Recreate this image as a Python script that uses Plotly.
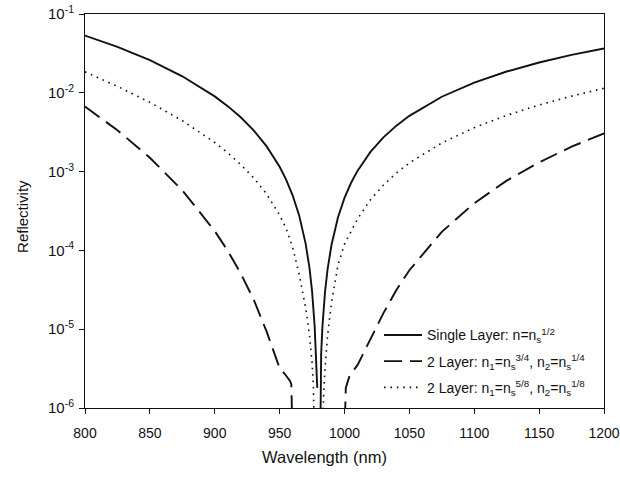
import plotly.graph_objects as go

# Reflectivity spectra of AR coatings (log scale), wavelength in nm
wl_single = [800, 825, 850, 875, 900, 910, 920, 930, 940, 950, 955, 960, 965, 970,
             973, 975, 977, 978, 979, 980, 981, 982, 983, 985, 987, 990, 995, 1000,
             1005, 1010, 1020, 1030, 1040, 1050, 1075, 1100, 1125, 1150, 1175, 1200]
r_single = [0.0532, 0.0382, 0.0259, 0.0162, 0.0090, 0.00677, 0.00489, 0.00333, 0.00209,
            0.00115, 7.9e-4, 5.0e-4, 2.8e-4, 1.23e-4, 6.0e-5, 3.05e-5, 1.09e-5, 4.8e-6,
            1.8e-6, None, 1e-7, 4.8e-6, 1.08e-5, 2.99e-5, 5.83e-5, 1.18e-4, 2.63e-4,
            4.63e-4, 7.16e-4, 1.02e-3, 1.78e-3, 2.72e-3, 3.83e-3, 5.10e-3, 8.91e-3,
            0.01347, 0.01863, 0.02426, 0.03024, 0.03649]

wl_two_a = [800, 825, 850, 875, 900, 910, 920, 930, 940, 950, 954, 958, 959, 960, 965,
            970, 975, 985, 990, 995, 1000, 1001, 1004, 1010, 1020, 1030, 1040, 1050,
            1075, 1100, 1125, 1150, 1175, 1200]
r_two_a = [6.69e-3, 3.35e-3, 1.50e-3, 5.78e-4, 1.76e-4, 9.9e-5, 5.1e-5, 2.38e-5, 9.3e-6,
           3.2e-6, 2.7e-6, 2.2e-6, 2.0e-6, 4e-7, 1.7e-7, 3e-8, 2e-9, 2e-9, 3e-8, 1.5e-7,
           4.5e-7, 1.8e-6, 2.6e-6, 3.5e-6, 7.5e-6, 1.6e-5, 3.15e-5, 5.6e-5, 1.72e-4,
           3.97e-4, 7.67e-4, 1.31e-3, 2.07e-3, 3.05e-3]

wl_two_b = [800, 825, 850, 875, 900, 910, 920, 930, 940, 950, 955, 960, 965, 970, 973,
            975, 976, 977, 978, 980, 982, 983, 984, 985, 987, 990, 995, 1000, 1005,
            1010, 1020, 1030, 1040, 1050, 1075, 1100, 1125, 1150, 1175, 1200]
r_two_b = [0.01845, 0.01207, 0.00756, 0.00443, 0.00234, 0.00173, 0.00123, 8.3e-4, 5.2e-4,
           2.8e-4, 1.9e-4, 1.1e-4, 5.0e-5, 1.9e-5, 8.5e-6, 3.8e-6, 1.9e-6, 7e-7, 1e-7,
           1e-9, 1e-7, 6e-7, 1.6e-6, 3.2e-6, 8.5e-6, 2.2e-5, 6.5e-5, 1.2e-4, 1.75e-4,
           2.5e-4, 4.4e-4, 6.75e-4, 9.6e-4, 1.29e-3, 2.31e-3, 3.61e-3, 5.18e-3, 7.0e-3,
           9.08e-3, 0.0114]

x_ticks = [800, 850, 900, 950, 1000, 1050, 1100, 1150, 1200]
y_ticks = [1e-6, 1e-5, 1e-4, 1e-3, 1e-2, 1e-1]
y_ticktext = ["10<sup>-6</sup>", "10<sup>-5</sup>", "10<sup>-4</sup>",
              "10<sup>-3</sup>", "10<sup>-2</sup>", "10<sup>-1</sup>"]

ink = "#111111"
font_family = "Arial, Liberation Sans, sans-serif"

fig = go.Figure()
fig.add_trace(go.Scatter(
    x=wl_single, y=r_single, mode="lines", connectgaps=False, legendgroup="a",
    name="Single Layer: n=n<sub>s</sub><sup>1/2</sup>",
    line=dict(color=ink, width=1.9)))
fig.add_trace(go.Scatter(
    x=wl_two_a, y=r_two_a, mode="lines", legendgroup="b",
    name="2 Layer: n<sub>1</sub>=n<sub>s</sub><sup>3/4</sup>, n<sub>2</sub>=n<sub>s</sub><sup>1/4</sup>",
    line=dict(color=ink, width=1.9, dash="18px,8px")))
fig.add_trace(go.Scatter(
    x=wl_two_b, y=r_two_b, mode="lines", legendgroup="c",
    name="2 Layer: n<sub>1</sub>=n<sub>s</sub><sup>5/8</sup>, n<sub>2</sub>=n<sub>s</sub><sup>1/8</sup>",
    line=dict(color=ink, width=1.6, dash="1.6px,4.8px")))

fig.update_xaxes(
    range=[800, 1200], tickvals=x_ticks, ticks="outside", ticklen=5, tickwidth=1,
    tickcolor=ink, showline=True, linecolor=ink, linewidth=1, mirror=True,
    showgrid=False, zeroline=False, automargin=False,
    tickfont=dict(size=14, color=ink, family=font_family), ticklabelstandoff=7)
fig.update_yaxes(
    type="log", range=[-6, -1], tickvals=y_ticks, ticktext=y_ticktext,
    ticks="outside", ticklen=5, tickwidth=1, tickcolor=ink, showline=True,
    linecolor=ink, linewidth=1, mirror=True, showgrid=False, zeroline=False,
    automargin=False,
    tickfont=dict(size=15, color=ink, family=font_family), ticklabelstandoff=2)

fig.update_layout(
    width=620, height=477,
    margin=dict(l=85, r=16, t=14, b=69),
    paper_bgcolor="white", plot_bgcolor="white",
    font=dict(family=font_family, color=ink),
    showlegend=True,
    legend=dict(x=0.5665, y=0.225, xanchor="left", yanchor="top",
                bgcolor="rgba(0,0,0,0)", borderwidth=0, itemwidth=38,
                font=dict(size=14, color=ink, family=font_family),
                traceorder="grouped", tracegroupgap=5),
    annotations=[
        dict(text="Wavelength (nm)", xref="paper", yref="paper", x=0.461, y=0,
             yshift=-49, showarrow=False, xanchor="center", yanchor="middle",
             font=dict(size=16.5, color=ink, family=font_family)),
        dict(text="Reflectivity", xref="paper", yref="paper", x=0, y=0.485,
             xshift=-62, showarrow=False, textangle=-90, xanchor="center",
             yanchor="middle", font=dict(size=15, color=ink, family=font_family)),
    ],
)

fig.write_html("out.html")
